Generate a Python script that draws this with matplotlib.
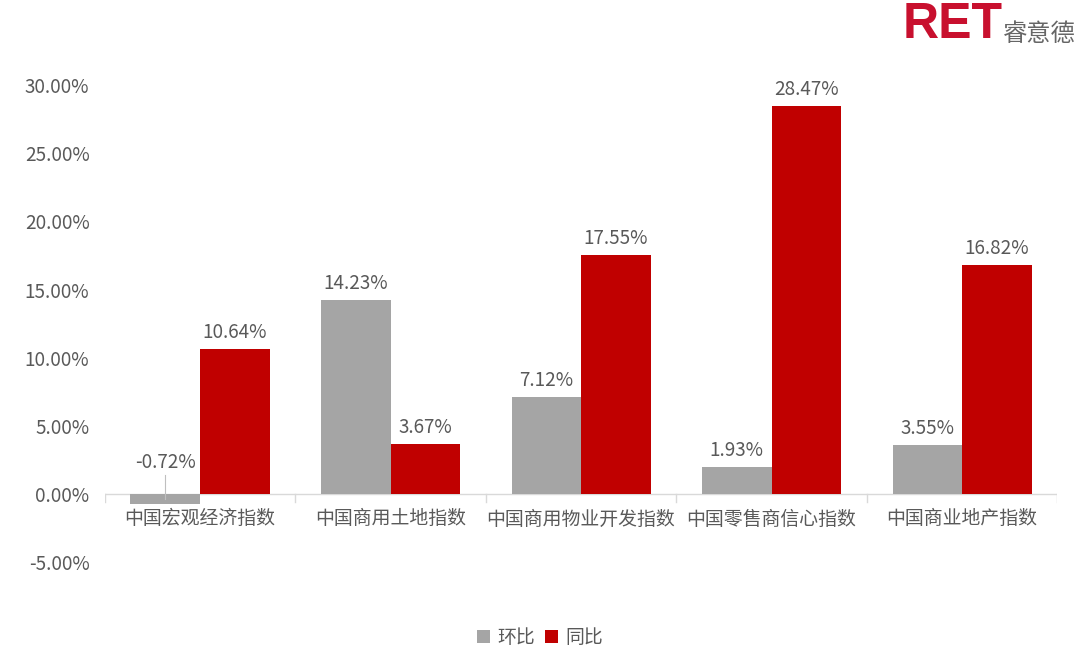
import numpy as np
import matplotlib.pyplot as plt

plt.rcParams['font.family'] = ['Noto Sans CJK SC', 'DejaVu Sans']

categories = ["中国宏观经济指数", "中国商用土地指数", "中国商用物业开发指数",
              "中国零售商信心指数", "中国商业地产指数"]
mom = [-0.72, 14.23, 7.12, 1.93, 3.55]     # 环比
yoy = [10.64, 3.67, 17.55, 28.47, 16.82]   # 同比
yticks = [-5, 0, 5, 10, 15, 20, 25, 30]

GRAY = "#A5A5A5"
RED = "#C00000"
TXT = "#595959"
FS = 13.6

fig = plt.figure(figsize=(10.8, 6.61), dpi=100)
ax = fig.add_axes([0.097, 0.150, 0.882, 0.721])

x = np.arange(len(categories))
w = 0.365
ax.bar(x - w / 2, mom, w, color=GRAY, label="环比")
ax.bar(x + w / 2, yoy, w, color=RED, label="同比")

ax.set_xlim(-0.5, len(categories) - 0.5)
ax.set_ylim(-5, 30)
ax.set_yticks(yticks)
ax.set_yticklabels([f"{v:.2f}%" for v in yticks], fontsize=FS, color=TXT)
ax.tick_params(axis="y", length=0, pad=11)
ax.set_xticks([])
for s in ax.spines.values():
    s.set_visible(False)

# zero line and category separators
ax.axhline(0, color="#D9D9D9", lw=1, zorder=0)
for b in np.arange(len(categories) + 1) - 0.5:
    ax.plot([b, b], [0, -0.6], color="#D9D9D9", lw=1, zorder=0)

for i, name in enumerate(categories):
    ax.text(i, -1.85, name, ha="center", va="center", fontsize=FS, color=TXT)

for i, (a, b) in enumerate(zip(mom, yoy)):
    if a >= 0:
        ax.text(i - w / 2, a + 0.45, f"{a:.2f}%", ha="center", va="bottom",
                fontsize=FS, color=TXT)
    else:
        ax.text(i - w / 2, 2.27, f"{a:.2f}%", ha="center", va="center",
                fontsize=FS, color=TXT)
        ax.plot([i - w / 2, i - w / 2], [1.4, a / 2], color="#BFBFBF", lw=0.8)
    ax.text(i + w / 2, b + 0.45, f"{b:.2f}%", ha="center", va="bottom",
            fontsize=FS, color=TXT)

leg = fig.legend(loc="center", bbox_to_anchor=(0.5, 0.035), ncol=2, frameon=False,
                 fontsize=FS, handlelength=0.7, handleheight=0.7,
                 handletextpad=0.4, columnspacing=0.5)
for t in leg.get_texts():
    t.set_color(TXT)

# logo
fig.text(0.836, 0.962, "RET", ha="left", va="center", fontsize=36,
         fontweight="bold", color="#C8102E", family="Liberation Sans")
fig.text(0.929, 0.948, "睿意德", ha="left", va="center", fontsize=17.5, color="#666666")

fig.savefig("out.png", dpi=100)
